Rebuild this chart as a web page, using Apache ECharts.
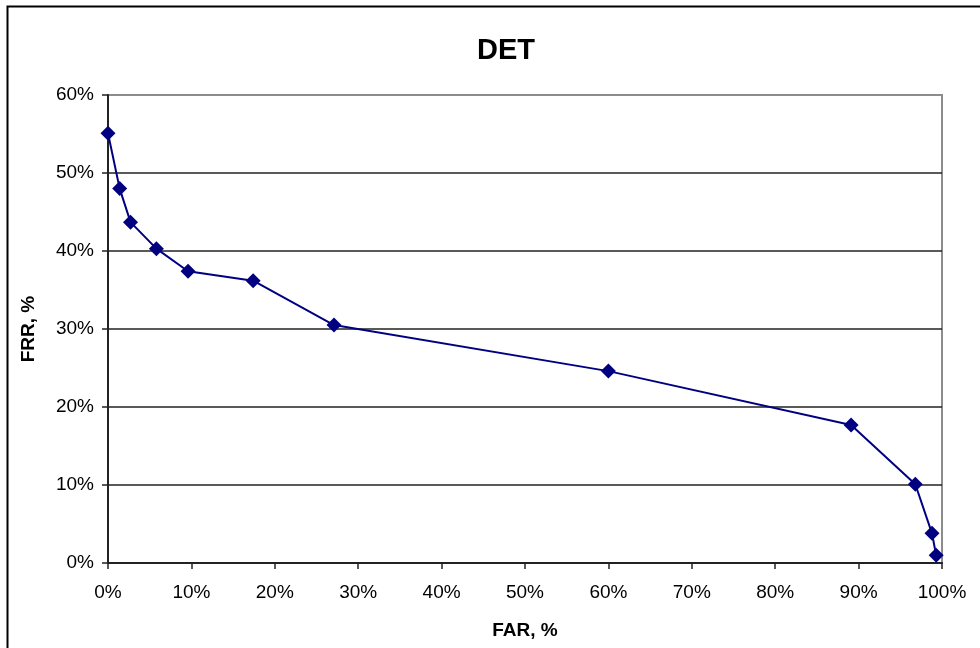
<!DOCTYPE html>
<html>
<head>
<meta charset="utf-8">
<script src="https://cdn.jsdelivr.net/npm/echarts@6/dist/echarts.min.js"></script>
<style>html,body{margin:0;padding:0;background:#fff;}#c{width:980px;height:648px;}</style>
</head>
<body>
<div id="c"></div>
<script>
// FAR (%) values, x axis
var far = [0, 1.4, 2.7, 5.8, 9.6, 17.4, 27.1, 60.0, 89.1, 96.8, 98.8, 99.3];
// FRR (%) values, y axis
var frr = [55.1, 48.0, 43.7, 40.3, 37.4, 36.2, 30.5, 24.6, 17.7, 10.1, 3.8, 1.0];
var titleText = 'DET';
var xName = 'FAR, %';
var yName = 'FRR, %';

var points = far.map(function (v, i) { return [v, frr[i]]; });
var font = '"Liberation Sans", Arial, sans-serif';

var chart = echarts.init(document.getElementById('c'), null, {renderer: 'canvas'});
chart.setOption({
  animation: false,
  backgroundColor: '#fff',
  title: {
    text: titleText,
    left: 501, top: 31, textAlign: 'center',
    textStyle: {fontFamily: font, fontSize: 29, fontWeight: 'bold', color: '#000'}
  },
  graphic: [{
    type: 'rect', silent: true,
    shape: {x: 7.5, y: 6.5, width: 1100, height: 800},
    style: {fill: 'none', stroke: '#000', lineWidth: 2}
  }],
  grid: {
    left: 108, right: 38, top: 95, bottom: 85,
    show: true, borderColor: '#8c8c8c', borderWidth: 2, backgroundColor: 'transparent'
  },
  xAxis: {
    type: 'value', min: 0, max: 100, interval: 10,
    name: xName, nameLocation: 'middle', nameGap: 58,
    nameTextStyle: {fontFamily: font, fontSize: 19, fontWeight: 'bold', color: '#000'},
    axisLine: {show: true, onZero: false, lineStyle: {color: '#222', width: 2}},
    axisTick: {show: true, inside: false, length: 6, lineStyle: {color: '#222', width: 1.5}},
    axisLabel: {formatter: '{value}%', margin: 20, fontFamily: font, fontSize: 19, color: '#000'},
    splitLine: {show: false}
  },
  yAxis: {
    type: 'value', min: 0, max: 60, interval: 10,
    name: yName, nameLocation: 'middle', nameGap: 70, nameRotate: 90,
    nameTextStyle: {fontFamily: font, fontSize: 19, fontWeight: 'bold', color: '#000'},
    axisLine: {show: true, onZero: false, lineStyle: {color: '#222', width: 2}},
    axisTick: {show: true, inside: false, length: 6, lineStyle: {color: '#222', width: 1.5}},
    axisLabel: {formatter: '{value}%', margin: 14, fontFamily: font, fontSize: 19, color: '#000'},
    splitLine: {show: true, lineStyle: {color: ['#222','#222','#222','#222','#222','#222','#8c8c8c'], width: 1.5}}
  },
  series: [{
    type: 'line',
    data: points,
    symbol: 'diamond', symbolSize: 15,
    lineStyle: {color: '#000080', width: 2},
    itemStyle: {color: '#000080'},
    z: 5
  }]
});
</script>
</body>
</html>
